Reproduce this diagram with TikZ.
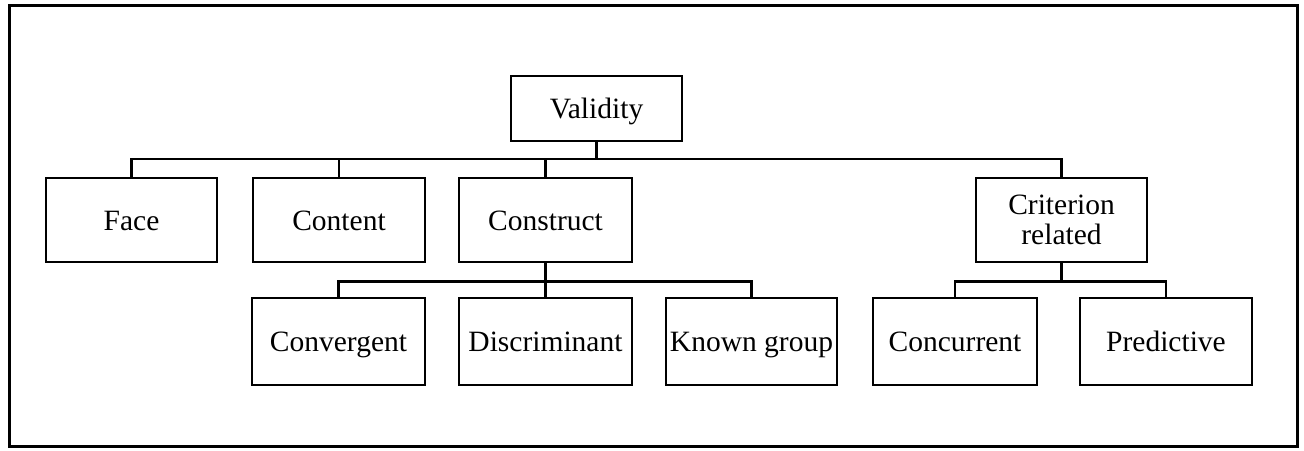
\documentclass[tikz,border=0pt]{standalone}
\usepackage{fontspec}
\setmainfont{Liberation Serif}
\begin{document}
\begin{tikzpicture}[x=1pt,y=-1pt,
  box/.style={draw=black, line width=2.7pt, fill=white, inner sep=0pt, align=center,
    text height=20pt, text depth=0pt,
    font=\fontsize{29.5}{30}\selectfont},
  twoline/.style={text height={}, text depth={}},
  conn/.style={draw=black, line width=2.4pt}]
\useasboundingbox (0,0) rectangle (1304,450);
\draw[line width=3pt] (9.5,5.5) rectangle (1297.5,446.5);
% level 0
\node[box, minimum width=171pt, minimum height=65pt] (val) at (596.5,108.5) {Validity};
% level 1
\node[box, minimum width=171pt, minimum height=84pt] (face) at (131.5,220) {Face};
\node[box, minimum width=172pt, minimum height=84pt] (cont) at (339,220) {Content};
\node[box, minimum width=173pt, minimum height=84pt] (cons) at (545.5,220) {Construct};
\node[box, twoline, minimum width=171pt, minimum height=84pt] (crit) at (1061.5,220) {Criterion\\related};
% level 2
\node[box, minimum width=173pt, minimum height=87pt] (conv) at (338.5,341.5) {Convergent};
\node[box, minimum width=173pt, minimum height=87pt] (disc) at (545.5,341.5) {Discriminant};
\node[box, minimum width=171pt, minimum height=87pt] (known) at (751.5,341.5) {Known group};
\node[box, minimum width=164pt, minimum height=87pt] (conc) at (955,341.5) {Concurrent};
\node[box, minimum width=172pt, minimum height=87pt] (pred) at (1166,341.5) {Predictive};
% buses
\coordinate (b1) at (596.5,159);
\coordinate (b2) at (545.5,281.5);
\coordinate (b3) at (1061.5,281.5);
\draw[conn] (val.south) -- (b1);
\draw[conn] (face.north) -- (face.north |- b1) -- (crit.north |- b1) -- (crit.north);
\draw[conn] (cont.north) -- (cont.north |- b1);
\draw[conn] (cons.north) -- (cons.north |- b1);
\draw[conn] (cons.south) -- (b2);
\draw[conn] (conv.north) -- (conv.north |- b2) -- (known.north |- b2) -- (known.north);
\draw[conn] (disc.north) -- (disc.north |- b2);
\draw[conn] (crit.south) -- (b3);
\draw[conn] (conc.north) -- (conc.north |- b3) -- (pred.north |- b3) -- (pred.north);
\end{tikzpicture}
\end{document}
